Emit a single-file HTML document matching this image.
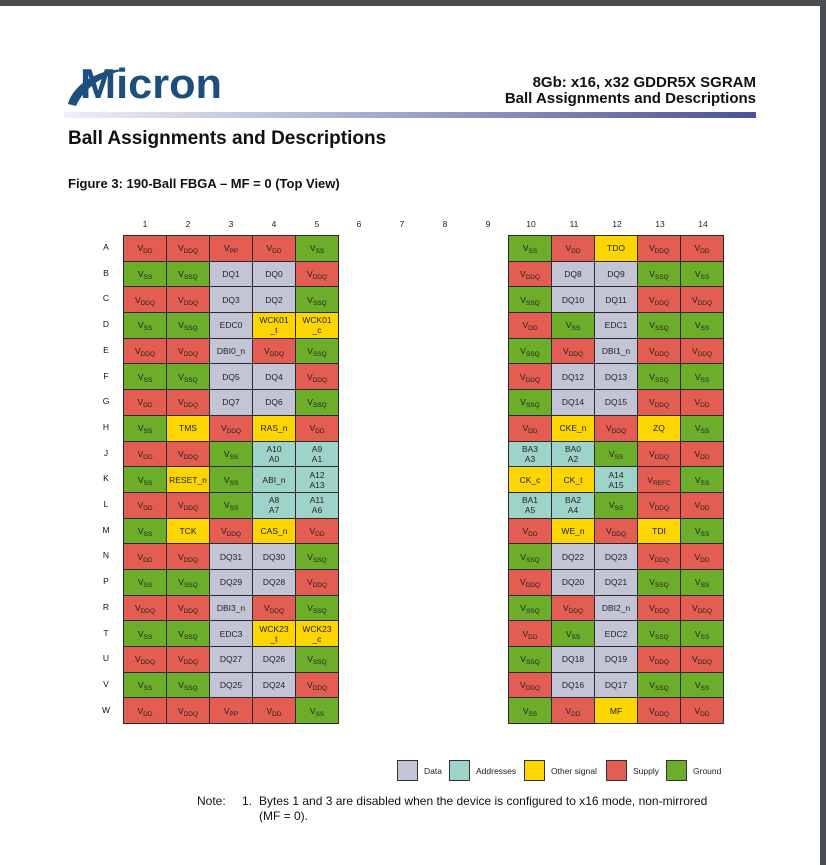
<!DOCTYPE html>
<html><head><meta charset="utf-8"><style>
*{margin:0;padding:0;box-sizing:border-box}
body{width:826px;height:865px;background:#fff;position:relative;overflow:hidden;font-family:"Liberation Sans",sans-serif;color:#111}
.frame-t{position:absolute;left:0;top:0;width:826px;height:6px;background:#4a4d50}
.frame-r{position:absolute;right:0;top:0;width:6px;height:865px;background:#4a4d50}
.abs{position:absolute;white-space:nowrap}
table{position:absolute;border-collapse:collapse;table-layout:fixed}
td{width:43px;height:25.7px;border:1.5px solid #2a2a2a;text-align:center;vertical-align:middle;font-size:8.5px;line-height:10px;color:#222}
sub{font-size:6.5px;vertical-align:-2px;line-height:0}
.r{background:#e35d52}.g{background:#6cad2a}.d{background:#c3c5d6}.a{background:#9ed3c9}.y{background:#fdd500}
.n{font-size:8.5px;color:#222;width:20px;text-align:center}
.lb{position:absolute;top:760px;width:21px;height:21px;border:1px solid #333}
.lt{position:absolute;top:766px;font-size:8.5px;color:#222}
</style></head><body>
<div class="frame-t"></div><div class="frame-r"></div>

<svg class="abs" style="left:64px;top:62px" width="165" height="50" viewBox="0 0 165 50">
<path d="M4 42 C 10 20, 40 5, 62 8 C 45 10, 20 25, 12 44 Z" fill="#1d4f7c"/>
<text x="16" y="36" font-family="Liberation Sans" font-weight="bold" font-size="42" fill="#1d4f7c" textLength="142" lengthAdjust="spacingAndGlyphs">Micron</text>
</svg>
<div class="abs" style="right:70px;top:75px;font-size:15px;font-weight:bold;text-align:right;line-height:16px">8Gb: x16, x32 GDDR5X SGRAM<br>Ball Assignments and Descriptions</div>
<div class="abs" style="left:64px;top:112px;width:692px;height:6px;background:linear-gradient(to right,#eef0f6,#9da3c8 50%,#4a5396)"></div>
<div class="abs" style="left:68px;top:128px;font-size:19px;font-weight:bold">Ball Assignments and Descriptions</div>
<div class="abs" style="left:68px;top:176px;font-size:13px;font-weight:bold">Figure 3: 190-Ball FBGA – MF = 0 (Top View)</div>

<div class="abs n" style="left:135px;top:219px">1</div>
<div class="abs n" style="left:178px;top:219px">2</div>
<div class="abs n" style="left:221px;top:219px">3</div>
<div class="abs n" style="left:264px;top:219px">4</div>
<div class="abs n" style="left:307px;top:219px">5</div>
<div class="abs n" style="left:349px;top:219px">6</div>
<div class="abs n" style="left:392px;top:219px">7</div>
<div class="abs n" style="left:435px;top:219px">8</div>
<div class="abs n" style="left:478px;top:219px">9</div>
<div class="abs n" style="left:521px;top:219px">10</div>
<div class="abs n" style="left:564px;top:219px">11</div>
<div class="abs n" style="left:607px;top:219px">12</div>
<div class="abs n" style="left:650px;top:219px">13</div>
<div class="abs n" style="left:693px;top:219px">14</div>

<div class="abs" style="left:96px;top:235px;width:20px;font-size:8.5px;line-height:25.7px;text-align:center">A<br>B<br>C<br>D<br>E<br>F<br>G<br>H<br>J<br>K<br>L<br>M<br>N<br>P<br>R<br>T<br>U<br>V<br>W</div>

<table style="left:123px;top:235px;width:215px">
<tr><td class="r">V<sub>DD</sub></td><td class="r">V<sub>DDQ</sub></td><td class="r">V<sub>PP</sub></td><td class="r">V<sub>DD</sub></td><td class="g">V<sub>SS</sub></td></tr>
<tr><td class="g">V<sub>SS</sub></td><td class="g">V<sub>SSQ</sub></td><td class="d">DQ1</td><td class="d">DQ0</td><td class="r">V<sub>DDQ</sub></td></tr>
<tr><td class="r">V<sub>DDQ</sub></td><td class="r">V<sub>DDQ</sub></td><td class="d">DQ3</td><td class="d">DQ2</td><td class="g">V<sub>SSQ</sub></td></tr>
<tr><td class="g">V<sub>SS</sub></td><td class="g">V<sub>SSQ</sub></td><td class="d">EDC0</td><td class="y">WCK01<br>_t</td><td class="y">WCK01<br>_c</td></tr>
<tr><td class="r">V<sub>DDQ</sub></td><td class="r">V<sub>DDQ</sub></td><td class="d">DBI0_n</td><td class="r">V<sub>DDQ</sub></td><td class="g">V<sub>SSQ</sub></td></tr>
<tr><td class="g">V<sub>SS</sub></td><td class="g">V<sub>SSQ</sub></td><td class="d">DQ5</td><td class="d">DQ4</td><td class="r">V<sub>DDQ</sub></td></tr>
<tr><td class="r">V<sub>DD</sub></td><td class="r">V<sub>DDQ</sub></td><td class="d">DQ7</td><td class="d">DQ6</td><td class="g">V<sub>SSQ</sub></td></tr>
<tr><td class="g">V<sub>SS</sub></td><td class="y">TMS</td><td class="r">V<sub>DDQ</sub></td><td class="y">RAS_n</td><td class="r">V<sub>DD</sub></td></tr>
<tr><td class="r">V<sub>DD</sub></td><td class="r">V<sub>DDQ</sub></td><td class="g">V<sub>SS</sub></td><td class="a">A10<br>A0</td><td class="a">A9<br>A1</td></tr>
<tr><td class="g">V<sub>SS</sub></td><td class="y">RESET_n</td><td class="g">V<sub>SS</sub></td><td class="a">ABI_n</td><td class="a">A12<br>A13</td></tr>
<tr><td class="r">V<sub>DD</sub></td><td class="r">V<sub>DDQ</sub></td><td class="g">V<sub>SS</sub></td><td class="a">A8<br>A7</td><td class="a">A11<br>A6</td></tr>
<tr><td class="g">V<sub>SS</sub></td><td class="y">TCK</td><td class="r">V<sub>DDQ</sub></td><td class="y">CAS_n</td><td class="r">V<sub>DD</sub></td></tr>
<tr><td class="r">V<sub>DD</sub></td><td class="r">V<sub>DDQ</sub></td><td class="d">DQ31</td><td class="d">DQ30</td><td class="g">V<sub>SSQ</sub></td></tr>
<tr><td class="g">V<sub>SS</sub></td><td class="g">V<sub>SSQ</sub></td><td class="d">DQ29</td><td class="d">DQ28</td><td class="r">V<sub>DDQ</sub></td></tr>
<tr><td class="r">V<sub>DDQ</sub></td><td class="r">V<sub>DDQ</sub></td><td class="d">DBI3_n</td><td class="r">V<sub>DDQ</sub></td><td class="g">V<sub>SSQ</sub></td></tr>
<tr><td class="g">V<sub>SS</sub></td><td class="g">V<sub>SSQ</sub></td><td class="d">EDC3</td><td class="y">WCK23<br>_t</td><td class="y">WCK23<br>_c</td></tr>
<tr><td class="r">V<sub>DDQ</sub></td><td class="r">V<sub>DDQ</sub></td><td class="d">DQ27</td><td class="d">DQ26</td><td class="g">V<sub>SSQ</sub></td></tr>
<tr><td class="g">V<sub>SS</sub></td><td class="g">V<sub>SSQ</sub></td><td class="d">DQ25</td><td class="d">DQ24</td><td class="r">V<sub>DDQ</sub></td></tr>
<tr><td class="r">V<sub>DD</sub></td><td class="r">V<sub>DDQ</sub></td><td class="r">V<sub>PP</sub></td><td class="r">V<sub>DD</sub></td><td class="g">V<sub>SS</sub></td></tr>
</table>

<table style="left:508px;top:235px;width:215px">
<tr><td class="g">V<sub>SS</sub></td><td class="r">V<sub>DD</sub></td><td class="y">TDO</td><td class="r">V<sub>DDQ</sub></td><td class="r">V<sub>DD</sub></td></tr>
<tr><td class="r">V<sub>DDQ</sub></td><td class="d">DQ8</td><td class="d">DQ9</td><td class="g">V<sub>SSQ</sub></td><td class="g">V<sub>SS</sub></td></tr>
<tr><td class="g">V<sub>SSQ</sub></td><td class="d">DQ10</td><td class="d">DQ11</td><td class="r">V<sub>DDQ</sub></td><td class="r">V<sub>DDQ</sub></td></tr>
<tr><td class="r">V<sub>DD</sub></td><td class="g">V<sub>SS</sub></td><td class="d">EDC1</td><td class="g">V<sub>SSQ</sub></td><td class="g">V<sub>SS</sub></td></tr>
<tr><td class="g">V<sub>SSQ</sub></td><td class="r">V<sub>DDQ</sub></td><td class="d">DBI1_n</td><td class="r">V<sub>DDQ</sub></td><td class="r">V<sub>DDQ</sub></td></tr>
<tr><td class="r">V<sub>DDQ</sub></td><td class="d">DQ12</td><td class="d">DQ13</td><td class="g">V<sub>SSQ</sub></td><td class="g">V<sub>SS</sub></td></tr>
<tr><td class="g">V<sub>SSQ</sub></td><td class="d">DQ14</td><td class="d">DQ15</td><td class="r">V<sub>DDQ</sub></td><td class="r">V<sub>DD</sub></td></tr>
<tr><td class="r">V<sub>DD</sub></td><td class="y">CKE_n</td><td class="r">V<sub>DDQ</sub></td><td class="y">ZQ</td><td class="g">V<sub>SS</sub></td></tr>
<tr><td class="a">BA3<br>A3</td><td class="a">BA0<br>A2</td><td class="g">V<sub>SS</sub></td><td class="r">V<sub>DDQ</sub></td><td class="r">V<sub>DD</sub></td></tr>
<tr><td class="y">CK_c</td><td class="y">CK_t</td><td class="a">A14<br>A15</td><td class="r">V<sub>REFC</sub></td><td class="g">V<sub>SS</sub></td></tr>
<tr><td class="a">BA1<br>A5</td><td class="a">BA2<br>A4</td><td class="g">V<sub>SS</sub></td><td class="r">V<sub>DDQ</sub></td><td class="r">V<sub>DD</sub></td></tr>
<tr><td class="r">V<sub>DD</sub></td><td class="y">WE_n</td><td class="r">V<sub>DDQ</sub></td><td class="y">TDI</td><td class="g">V<sub>SS</sub></td></tr>
<tr><td class="g">V<sub>SSQ</sub></td><td class="d">DQ22</td><td class="d">DQ23</td><td class="r">V<sub>DDQ</sub></td><td class="r">V<sub>DD</sub></td></tr>
<tr><td class="r">V<sub>DDQ</sub></td><td class="d">DQ20</td><td class="d">DQ21</td><td class="g">V<sub>SSQ</sub></td><td class="g">V<sub>SS</sub></td></tr>
<tr><td class="g">V<sub>SSQ</sub></td><td class="r">V<sub>DDQ</sub></td><td class="d">DBI2_n</td><td class="r">V<sub>DDQ</sub></td><td class="r">V<sub>DDQ</sub></td></tr>
<tr><td class="r">V<sub>DD</sub></td><td class="g">V<sub>SS</sub></td><td class="d">EDC2</td><td class="g">V<sub>SSQ</sub></td><td class="g">V<sub>SS</sub></td></tr>
<tr><td class="g">V<sub>SSQ</sub></td><td class="d">DQ18</td><td class="d">DQ19</td><td class="r">V<sub>DDQ</sub></td><td class="r">V<sub>DDQ</sub></td></tr>
<tr><td class="r">V<sub>DDQ</sub></td><td class="d">DQ16</td><td class="d">DQ17</td><td class="g">V<sub>SSQ</sub></td><td class="g">V<sub>SS</sub></td></tr>
<tr><td class="g">V<sub>SS</sub></td><td class="r">V<sub>DD</sub></td><td class="y">MF</td><td class="r">V<sub>DDQ</sub></td><td class="r">V<sub>DD</sub></td></tr>
</table>

<div class="lb d" style="left:397px"></div><div class="lt" style="left:424px">Data</div>
<div class="lb a" style="left:449px"></div><div class="lt" style="left:476px">Addresses</div>
<div class="lb y" style="left:524px"></div><div class="lt" style="left:551px">Other signal</div>
<div class="lb r" style="left:606px"></div><div class="lt" style="left:633px">Supply</div>
<div class="lb g" style="left:666px"></div><div class="lt" style="left:693px">Ground</div>

<div class="abs" style="left:197px;top:794px;font-size:12px">Note:</div>
<div class="abs" style="left:242px;top:794px;font-size:12px">1.</div>
<div class="abs" style="left:259px;top:794px;font-size:12px;line-height:15px">Bytes 1 and 3 are disabled when the device is configured to x16 mode, non-mirrored<br>(MF = 0).</div>
</body></html>
